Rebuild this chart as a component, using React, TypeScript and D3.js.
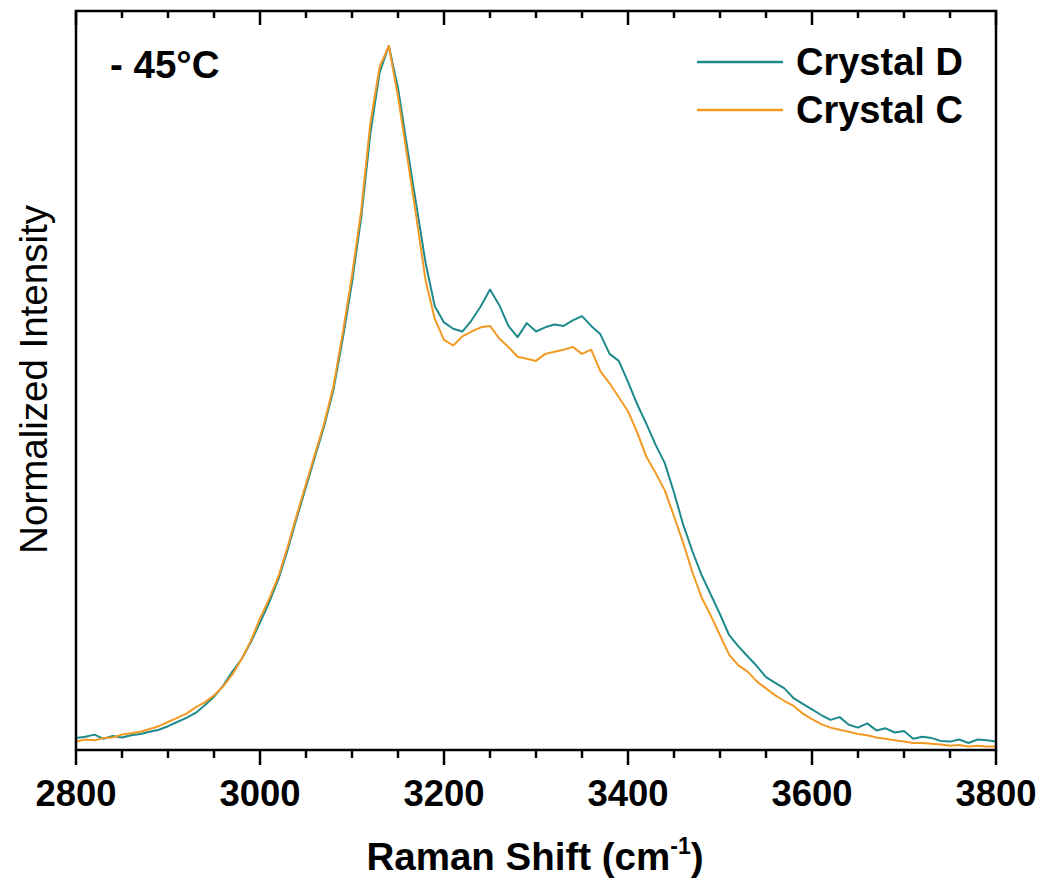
import * as d3 from "d3";
import React from "react";

// Raman shift grid (cm-1), 10 cm-1 steps
const shift = d3.range(2800, 3801, 10);

const crystalD = [
  0.011, 0.013, 0.016, 0.010, 0.014, 0.012, 0.015, 0.017, 0.020, 0.023,
  0.028, 0.034, 0.040, 0.047, 0.058, 0.070, 0.086, 0.106, 0.124, 0.148,
  0.176, 0.205, 0.238, 0.280, 0.326, 0.370, 0.414, 0.458, 0.510, 0.582,
  0.662, 0.755, 0.875, 0.962, 1.000, 0.940, 0.855, 0.772, 0.690, 0.628,
  0.605, 0.596, 0.592, 0.608, 0.628, 0.652, 0.630, 0.600, 0.584, 0.604,
  0.592, 0.598, 0.602, 0.600, 0.608, 0.614, 0.600, 0.588, 0.560, 0.550,
  0.520, 0.488, 0.460, 0.430, 0.404, 0.362, 0.316, 0.278, 0.244, 0.216,
  0.188, 0.158, 0.142, 0.128, 0.114, 0.098, 0.090, 0.082, 0.068, 0.060,
  0.052, 0.044, 0.037, 0.041, 0.030, 0.026, 0.032, 0.022, 0.025, 0.019,
  0.021, 0.010, 0.013, 0.011, 0.007, 0.006, 0.009, 0.004, 0.009, 0.008,
  0.006,
];

const crystalC = [
  0.006, 0.009, 0.008, 0.011, 0.012, 0.016, 0.018, 0.020, 0.024, 0.028,
  0.034, 0.040, 0.046, 0.055, 0.062, 0.072, 0.085, 0.102, 0.124, 0.150,
  0.182, 0.210, 0.242, 0.284, 0.330, 0.374, 0.418, 0.462, 0.515, 0.590,
  0.672, 0.765, 0.890, 0.970, 1.000, 0.928, 0.842, 0.755, 0.665, 0.610,
  0.580, 0.572, 0.585, 0.592, 0.598, 0.600, 0.582, 0.570, 0.556, 0.553,
  0.550, 0.560, 0.563, 0.566, 0.570, 0.560, 0.566, 0.535, 0.518, 0.498,
  0.478, 0.448, 0.413, 0.390, 0.365, 0.328, 0.290, 0.248, 0.212, 0.186,
  0.158, 0.130, 0.115, 0.106, 0.092, 0.082, 0.072, 0.064, 0.057, 0.046,
  0.038, 0.031, 0.026, 0.023, 0.020, 0.017, 0.015, 0.012, 0.010, 0.008,
  0.006, 0.004, 0.004, 0.003, 0.002, 0.000, 0.001, -0.001, 0.000, -0.001,
  -0.001,
];

const seriesNames = ["Crystal D", "Crystal C"];
const colors = ["#1e8a8b", "#f39a25"];
const majorTicks = [2800, 3000, 3200, 3400, 3600, 3800];
const minorTicks = d3.range(2800, 3801, 50).filter((v) => v % 200 !== 0);

const App = () => {
  const width = 1042;
  const height = 881;
  const left = 76;
  const right = 996;
  const top = 11;
  const bottom = 750;

  const x = d3.scaleLinear().domain([2800, 3800]).range([left, right]);
  const y = d3.scaleLinear().domain([-0.006, 1.05]).range([bottom, top]);

  const line = d3
    .line<number>()
    .x((_, i) => x(shift[i]))
    .y((d) => y(d));

  const font = "'Liberation Sans', Arial, sans-serif";
  const series = [crystalD, crystalC];

  // tick marks: outward on the bottom, inward on the top
  const tickPath =
    majorTicks.map((t) => `M${x(t)},${bottom}v15M${x(t)},${top}v14`).join("") +
    minorTicks.map((t) => `M${x(t)},${bottom}v8M${x(t)},${top}v7`).join("");

  return (
    <svg
      width={width}
      height={height}
      style={{ position: "absolute", left: 0, top: 0, background: "#fff" }}
      fontFamily={font}
    >
      <defs>
        <clipPath id="plot">
          <rect x={left} y={top} width={right - left} height={bottom - top} />
        </clipPath>
      </defs>

      <g clipPath="url(#plot)" fill="none" strokeWidth={2} strokeLinejoin="round">
        {series.map((s, i) => (
          <path key={seriesNames[i]} d={line(s) ?? ""} stroke={colors[i]} />
        ))}
      </g>

      <rect
        x={left}
        y={top}
        width={right - left}
        height={bottom - top}
        fill="none"
        stroke="#000"
        strokeWidth={2.5}
      />
      <path d={tickPath} fill="none" stroke="#000" strokeWidth={2.5} />

      {majorTicks.map((t) => (
        <text key={"l" + t} x={x(t)} y={806} textAnchor="middle" fontSize={36.5} fontWeight="bold">
          {t}
        </text>
      ))}

      <text x={535} y={870} textAnchor="middle" fontSize={38.5} fontWeight="bold">
        Raman Shift (cm
        <tspan fontSize={23} dy={-16}>-1</tspan>
        <tspan dy={16}>)</tspan>
      </text>

      <text
        transform={`translate(47, ${(top + bottom) / 2 - 1}) rotate(-90)`}
        textAnchor="middle"
        fontSize={38.5}
      >
        Normalized Intensity
      </text>

      <text x={110} y={78} fontSize={38.5} fontWeight="bold">
        - 45°C
      </text>

      {seriesNames.map((name, i) => (
        <g key={name} transform={`translate(697, ${62 + i * 48})`}>
          <line x1={0} x2={86} y1={0} y2={0} stroke={colors[i]} strokeWidth={2.5} />
          <text x={99} y={13} fontSize={38} fontWeight="bold">
            {name}
          </text>
        </g>
      ))}
    </svg>
  );
};

export default App;
